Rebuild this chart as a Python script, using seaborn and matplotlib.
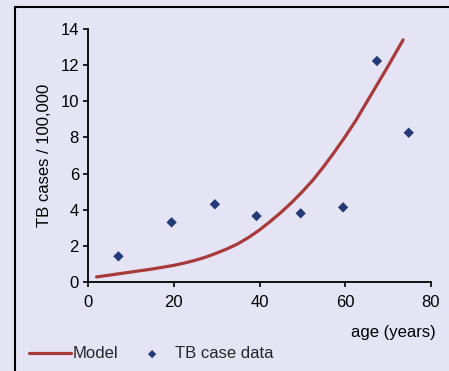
import matplotlib
matplotlib.use("Agg")
import matplotlib.pyplot as plt
from matplotlib.lines import Line2D
import seaborn as sns
import pandas as pd

# Data
data_age = [7.1, 19.5, 29.6, 39.3, 49.6, 59.5, 67.4, 74.8]
data_cases = [1.42, 3.3, 4.3, 3.65, 3.8, 4.13, 12.23, 8.26]

model_age = [2, 5, 10, 15, 20, 22.5, 25, 27.5, 30, 32.5, 35, 37.5, 40, 42.5, 45, 47.5,
             50, 52.5, 55, 57.5, 60, 62.5, 65, 67.5, 70, 73.5]
model_cases = [0.28, 0.38, 0.55, 0.72, 0.92, 1.05, 1.2, 1.38, 1.6, 1.84, 2.12, 2.47, 2.88,
               3.35, 3.85, 4.4, 5.0, 5.65, 6.4, 7.2, 8.05, 8.95, 9.95, 10.95, 11.95, 13.4]

x_ticks = [0, 20, 40, 60, 80]
y_ticks = [0, 2, 4, 6, 8, 10, 12, 14]

sns.set_style("ticks")
plt.rcParams['font.family'] = ['Liberation Sans', 'DejaVu Sans']

bg = '#e4e4f4'
fs = 12
fig = plt.figure(figsize=(4.49, 3.71), dpi=100, facecolor=bg)
ax = fig.add_axes([88/449, 1-282/371, (431-88)/449, (282-29)/371])
ax.set_facecolor(bg)

df_model = pd.DataFrame({'age': model_age, 'cases': model_cases})
df_data = pd.DataFrame({'age': data_age, 'cases': data_cases})

sns.lineplot(data=df_model, x='age', y='cases', ax=ax, color='#a83a3a', lw=2.3, label='Model')
sns.scatterplot(data=df_data, x='age', y='cases', ax=ax, color='#243a78', marker='D', s=28,
                edgecolor='none', label='TB case data', zorder=3)

ax.set_xlim(0, 80)
ax.set_ylim(0, 14)
ax.set_xticks(x_ticks)
ax.set_yticks(y_ticks)
ax.tick_params(axis='both', labelsize=fs, length=3.5, width=1.2, color='black', labelcolor='black', pad=3)
ax.tick_params(axis='x', pad=6)
for s in ['top', 'right']:
    ax.spines[s].set_visible(False)
for s in ['left', 'bottom']:
    ax.spines[s].set_color('black')
    ax.spines[s].set_linewidth(1.3)
ax.set_xlabel('')
ax.set_ylabel('TB cases / 100,000', fontsize=fs, color='black', labelpad=6)

fig.text(436/449, 1-332/371, 'age (years)', ha='right', va='center', fontsize=fs, color='black')

ax.get_legend().remove()
h, l = ax.get_legend_handles_labels()
leg = fig.legend(h, l, loc='center left', bbox_to_anchor=(29/449, 1-354/371), ncol=2,
                 frameon=False, fontsize=fs, handlelength=2.5, handletextpad=0.1,
                 columnspacing=0.8, borderaxespad=0, borderpad=0, markerscale=0.8)

# outer frame
fig.add_artist(Line2D([15/449, 15/449], [0, 1-7/371], color='black', lw=1.5, transform=fig.transFigure))
fig.add_artist(Line2D([15/449, 1], [1-7/371, 1-7/371], color='black', lw=1.5, transform=fig.transFigure))

fig.savefig('out.png', dpi=100, facecolor=bg)
